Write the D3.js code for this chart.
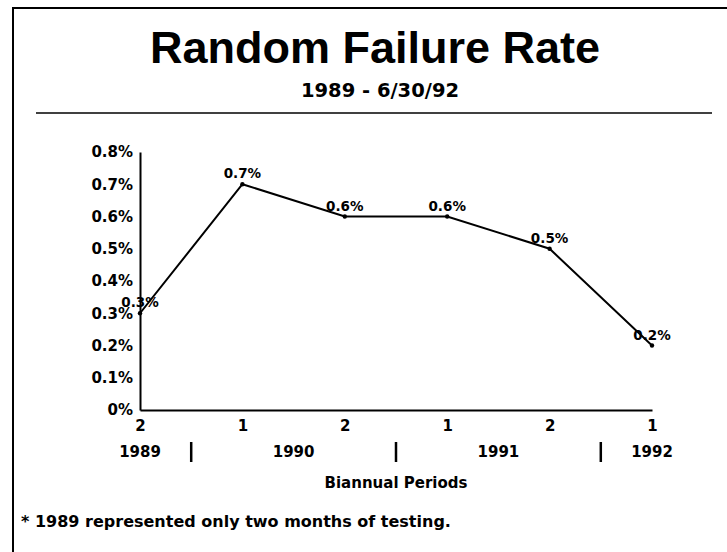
<!DOCTYPE html>
<html>
<head>
<meta charset="utf-8">
<script src="https://cdn.jsdelivr.net/npm/d3@7"></script>
<style>
  body { margin: 0; background: #fff; }
  text { fill: #000; }
</style>
</head>
<body>
<div id="wrapper"></div>
<script>
// values
const periods = ["2", "1", "2", "1", "2", "1"]
const periodYears = ["1989", "1990", "1990", "1991", "1991", "1992"]
const rates = [0.3, 0.7, 0.6, 0.6, 0.5, 0.2]
const yTicks = [0, 0.1, 0.2, 0.3, 0.4, 0.5, 0.6, 0.7, 0.8]

const titleText = "Random Failure Rate"
const subtitleText = "1989 - 6/30/92"
const xTitle = "Biannual Periods"
const footnote = "* 1989 represented only two months of testing."

function drawLineChart() {
  const dimensions = {
    width: 727,
    height: 552,
    margin: { top: 152, right: 75, bottom: 142, left: 140 },
  }
  dimensions.boundedWidth = dimensions.width - dimensions.margin.left - dimensions.margin.right
  dimensions.boundedHeight = dimensions.height - dimensions.margin.top - dimensions.margin.bottom

  const wrapper = d3.select("#wrapper")
    .append("svg")
      .attr("width", dimensions.width)
      .attr("height", dimensions.height)

  // frame and header rule
  wrapper.append("path")
    .attr("d", "M13,552V8H727")
    .attr("fill", "none")
    .attr("stroke", "#000")
    .attr("stroke-width", 2)

  wrapper.append("line")
    .attr("x1", 36).attr("x2", 712)
    .attr("y1", 113).attr("y2", 113)
    .attr("stroke", "#000")
    .attr("stroke-width", 1.5)

  wrapper.append("text")
    .attr("x", 375).attr("y", 63)
    .attr("text-anchor", "middle")
    .style("font-family", "'Liberation Sans', Arial, sans-serif")
    .style("font-weight", "bold")
    .style("font-size", "45px")
    .text(titleText)

  wrapper.append("text")
    .attr("x", 380).attr("y", 97)
    .attr("text-anchor", "middle")
    .style("font-family", "'DejaVu Sans', sans-serif")
    .style("font-weight", "bold")
    .style("font-size", "19.5px")
    .text(subtitleText)

  const bounds = wrapper.append("g")
    .attr("transform", `translate(${dimensions.margin.left}, ${dimensions.margin.top})`)

  const xScale = d3.scalePoint()
    .domain(d3.range(rates.length))
    .range([0, dimensions.boundedWidth])

  const yScale = d3.scaleLinear()
    .domain([0, 0.8])
    .range([dimensions.boundedHeight, 0])

  const labelFont = g => g.selectAll("text")
    .style("font-family", "'DejaVu Sans', sans-serif")
    .style("font-weight", "bold")
    .style("font-size", "15px")
    .attr("fill", "#000")

  const yAxis = bounds.append("g")
    .call(d3.axisLeft(yScale)
      .tickValues(yTicks)
      .tickSize(0)
      .tickPadding(7)
      .tickFormat(d => d === 0 ? "0%" : d.toFixed(1) + "%"))
    .call(labelFont)
  yAxis.select(".domain").attr("stroke-width", 2)

  const xAxis = bounds.append("g")
    .attr("transform", `translate(0, ${dimensions.boundedHeight})`)
    .call(d3.axisBottom(xScale)
      .tickSize(0)
      .tickPadding(10)
      .tickFormat(i => periods[i]))
    .call(labelFont)
  xAxis.select(".domain").attr("stroke-width", 2)

  // year labels centred under their periods, bars between years
  const years = Array.from(new Set(periodYears))
  const yearCenter = y => d3.mean(d3.range(periods.length).filter(i => periodYears[i] === y), xScale)

  bounds.append("g")
    .selectAll("text")
    .data(years)
    .join("text")
      .attr("x", yearCenter)
      .attr("y", dimensions.boundedHeight + 47)
      .attr("text-anchor", "middle")
      .style("font-family", "'DejaVu Sans', sans-serif")
      .style("font-weight", "bold")
      .style("font-size", "15px")
      .text(d => d)

  const breaks = d3.range(1, periods.length).filter(i => periodYears[i] !== periodYears[i - 1])
  bounds.append("g")
    .selectAll("line")
    .data(breaks)
    .join("line")
      .attr("x1", i => (xScale(i) + xScale(i - 1)) / 2)
      .attr("x2", i => (xScale(i) + xScale(i - 1)) / 2)
      .attr("y1", dimensions.boundedHeight + 32)
      .attr("y2", dimensions.boundedHeight + 52)
      .attr("stroke", "#000")
      .attr("stroke-width", 2.5)

  bounds.append("text")
    .attr("x", dimensions.boundedWidth / 2)
    .attr("y", dimensions.boundedHeight + 78)
    .attr("text-anchor", "middle")
    .style("font-family", "'DejaVu Sans', sans-serif")
    .style("font-weight", "bold")
    .style("font-size", "15px")
    .text(xTitle)

  wrapper.append("text")
    .attr("x", 21).attr("y", 527)
    .style("font-family", "'DejaVu Sans', sans-serif")
    .style("font-weight", "bold")
    .style("font-size", "16px")
    .text(footnote)

  // the line
  const lineGenerator = d3.line()
    .x((d, i) => xScale(i))
    .y(d => yScale(d))

  bounds.append("path")
    .attr("d", lineGenerator(rates))
    .attr("fill", "none")
    .attr("stroke", "#000")
    .attr("stroke-width", 2)

  bounds.append("g")
    .selectAll("circle")
    .data(rates)
    .join("circle")
      .attr("cx", (d, i) => xScale(i))
      .attr("cy", d => yScale(d))
      .attr("r", 2.2)
      .attr("fill", "#000")

  bounds.append("g")
    .selectAll("text")
    .data(rates)
    .join("text")
      .attr("x", (d, i) => xScale(i))
      .attr("y", d => yScale(d) - 6)
      .attr("text-anchor", "middle")
      .style("font-family", "'DejaVu Sans', sans-serif")
      .style("font-weight", "bold")
      .style("font-size", "13.5px")
      .text(d => d.toFixed(1) + "%")
}

drawLineChart()
</script>
</body>
</html>
